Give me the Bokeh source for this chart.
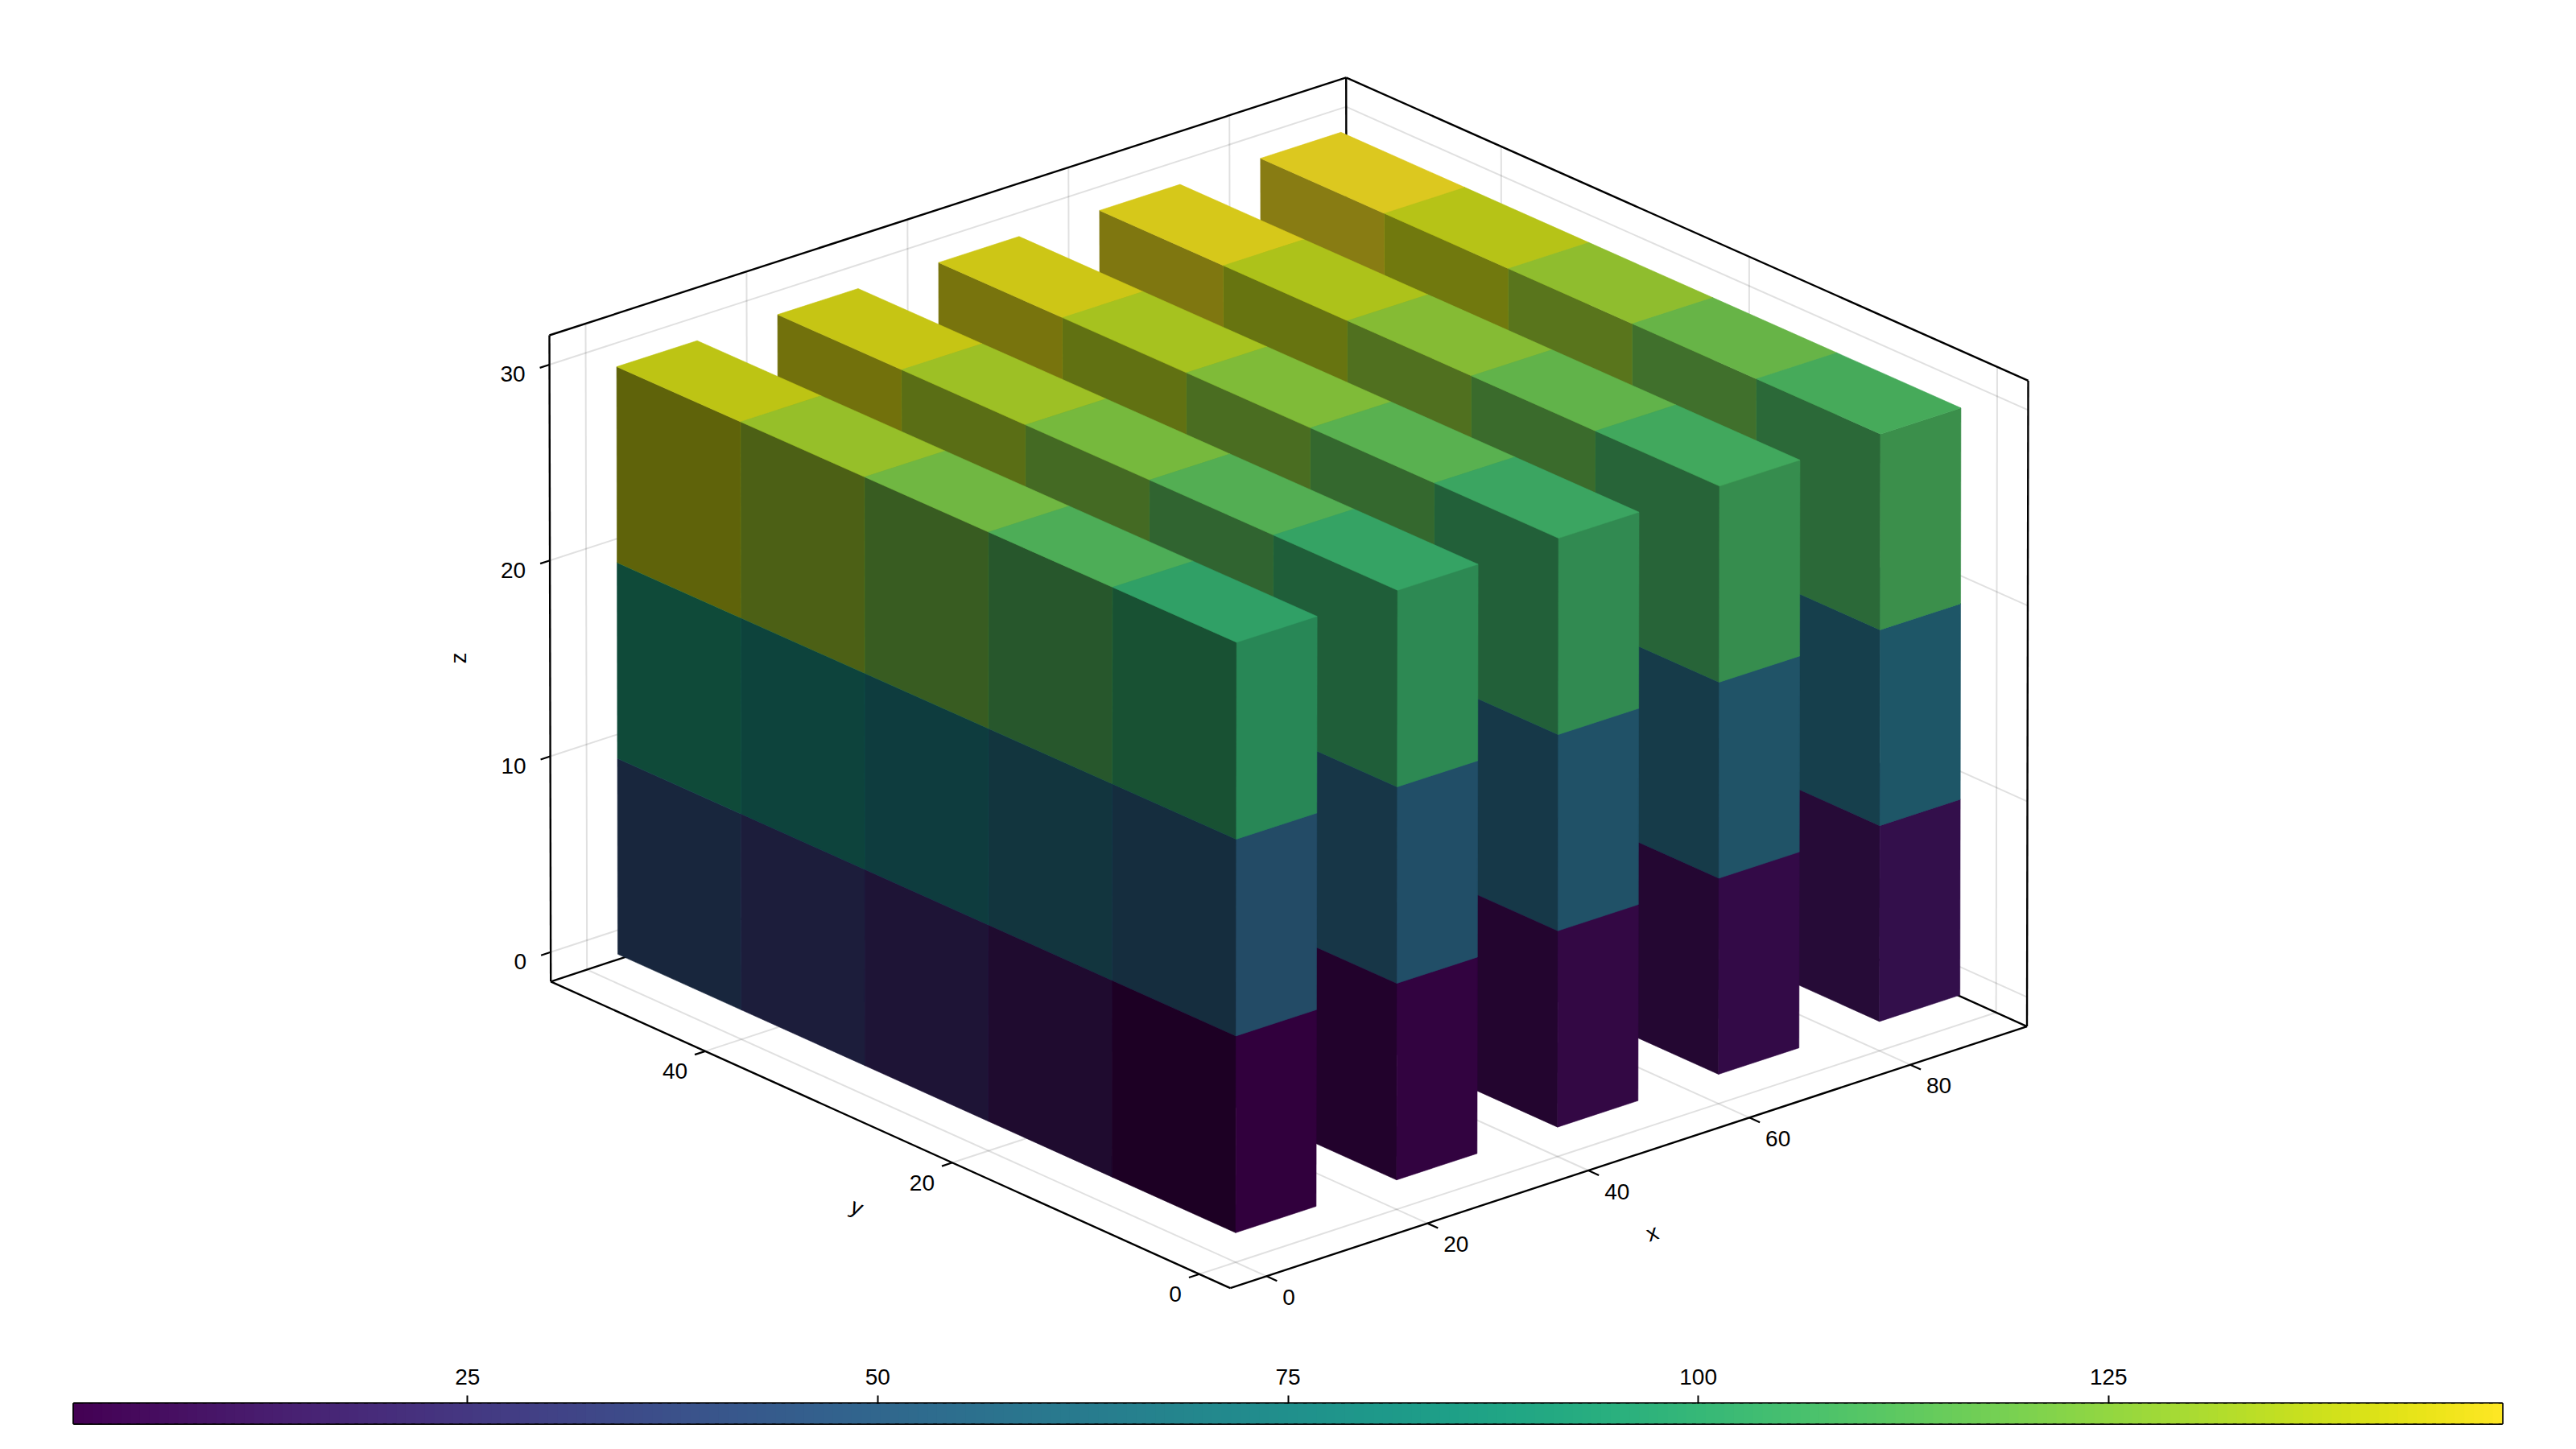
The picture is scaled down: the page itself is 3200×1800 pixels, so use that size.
from bokeh.plotting import figure
from bokeh.layouts import column
from bokeh.models import Range1d, LinearAxis, FixedTicker, ColumnDataSource
from bokeh.palettes import Viridis256
from bokeh.core.properties import value
from bokeh.embed import file_html
from bokeh.resources import INLINE

# ---------- data ----------
x_positions = [0, 20, 40, 60, 80]
y_positions = [0, 10, 20, 30, 40]
z_positions = [0, 10, 20]
values_z0 = [[1, 3, 5, 7, 9], [11, 13, 15, 17, 19], [21, 23, 25, 27, 29], [31, 33, 35, 37, 39], [41, 43, 45, 47, 49]]
values_z1 = [[51, 53, 55, 57, 59], [61, 63, 65, 67, 69], [71, 73, 75, 77, 79], [81, 83, 85, 87, 89], [91, 93, 95, 97, 99]]
values_z2 = [[101, 103, 105, 107, 109], [111, 113, 115, 117, 119], [121, 123, 125, 127, 129], [131, 133, 135, 137, 139], [141, 143, 145, 147, 149]]
cube_size = 10
x_ticks = [0, 20, 40, 60, 80]
y_ticks = [0, 20, 40]
z_ticks = [0, 10, 20, 30]
colorbar_ticks = [25, 50, 75, 100, 125]
value_min, value_max = 1, 149

# ---------- 3D scene scales ----------
XLIM = (-4.5, 94.5)
YLIM = (-2.5, 52.5)
ZLIM = (-1.5, 31.5)
# on-screen corners of the axis box, key = (x high, y high, z high)
CORNERS = {
    (0, 0, 0): (1527.8, 1599.6), (1, 0, 0): (2517.5, 1274.6),
    (0, 1, 0): (683.7, 1218.8), (1, 1, 0): (1673.4, 893.8),
    (0, 0, 1): (1529.3, 792.5), (1, 0, 1): (2519.0, 472.4),
    (0, 1, 1): (682.0, 416.0), (1, 1, 1): (1671.7, 95.9),
}
# face brightness: wall facing -x (per row along x), face toward -y, top
WALL_LIGHT = [0.44, 0.50, 0.51, 0.52, 0.54]
FRONT_LIGHT = 0.73
TOP_LIGHT = 0.87

def project(x, y, z):
    u = (x - XLIM[0]) / (XLIM[1] - XLIM[0])
    v = (y - YLIM[0]) / (YLIM[1] - YLIM[0])
    w = (z - ZLIM[0]) / (ZLIM[1] - ZLIM[0])
    sx = sy = 0.0
    for (i, j, k), (cx, cy) in CORNERS.items():
        t = (u if i else 1 - u) * (v if j else 1 - v) * (w if k else 1 - w)
        sx += t * cx
        sy += t * cy
    return sx, sy

def shade(val, f):
    idx = round((val - value_min) / (value_max - value_min) * 255)
    h = Viridis256[idx]
    r, g, b = int(h[1:3], 16), int(h[3:5], 16), int(h[5:7], 16)
    return "#%02x%02x%02x" % (int(r * f), int(g * f), int(b * f))

W, H_MAIN, H_BAR = 3184, 1672, 116
BORDER_L, BORDER_R = 91, 76
FONT = value("Liberation Sans")
p = figure(width=W, height=H_MAIN, x_range=Range1d(BORDER_L, W - BORDER_R), y_range=Range1d(H_MAIN, 0),
           output_backend="svg", toolbar_location=None,
           min_border_left=BORDER_L, min_border_right=BORDER_R, min_border_top=0, min_border_bottom=0)
p.xaxis.visible = False
p.yaxis.visible = False
p.grid.visible = False
p.outline_line_color = None

def seg(a, b):
    pa, pb = project(*a), project(*b)
    return [pa[0], pb[0]], [pa[1], pb[1]]

# grid
gx, gy = [], []
x0, x1 = XLIM
y0, y1 = YLIM
z0, z1 = ZLIM
for t in x_ticks:
    for a, b in (((t, y1, z0), (t, y1, z1)), ((t, y0, z0), (t, y1, z0))):
        s = seg(a, b); gx.append(s[0]); gy.append(s[1])
for t in y_ticks:
    for a, b in (((x1, t, z0), (x1, t, z1)), ((x0, t, z0), (x1, t, z0))):
        s = seg(a, b); gx.append(s[0]); gy.append(s[1])
for t in z_ticks:
    for a, b in (((x0, y1, t), (x1, y1, t)), ((x1, y0, t), (x1, y1, t))):
        s = seg(a, b); gx.append(s[0]); gy.append(s[1])
p.multi_line(gx, gy, line_color="#000000", line_alpha=0.12, line_width=2)

# frame
fx, fy = [], []
for a, b in [((x0, y1, z1), (x1, y1, z1)), ((x1, y1, z1), (x1, y0, z1)), ((x1, y1, z1), (x1, y1, z0)),
             ((x0, y1, z0), (x1, y1, z0)), ((x1, y0, z0), (x1, y1, z0)), ((x0, y1, z1), (x0, y1, z0)),
             ((x1, y0, z1), (x1, y0, z0)), ((x0, y1, z0), (x0, y0, z0)), ((x0, y0, z0), (x1, y0, z0))]:
    s = seg(a, b); fx.append(s[0]); fy.append(s[1])
p.multi_line(fx, fy, line_color="#000000", line_width=2.4)

# ticks
tx, ty = [], []
for t in x_ticks:
    s = seg((t, y0, z0), (t, y0 - 0.85, z0)); tx.append(s[0]); ty.append(s[1])
for t in y_ticks:
    s = seg((x0, t, z0), (x0 - 1.3, t, z0)); tx.append(s[0]); ty.append(s[1])
for t in z_ticks:
    s = seg((x0, y1, t), (x0 - 1.2, y1, t)); tx.append(s[0]); ty.append(s[1])
p.multi_line(tx, ty, line_color="#000000", line_width=2.2)

# cubes, back to front
xs, ys, cols = [], [], []
def face(pts, col):
    pr = [project(*q) for q in pts]
    xs.append([q[0] for q in pr]); ys.append([q[1] for q in pr]); cols.append(col)

layers = [values_z0, values_z1, values_z2]
for i in reversed(range(len(x_positions))):
    for j in reversed(range(len(y_positions))):
        for k in range(len(z_positions)):
            val = layers[k][j][i]
            a, b, c = x_positions[i], y_positions[j], z_positions[k]
            A, B, C = a + cube_size, b + cube_size, c + cube_size
            face([(a, b, c), (a, B, c), (a, B, C), (a, b, C)], shade(val, WALL_LIGHT[i]))
            face([(a, b, c), (A, b, c), (A, b, C), (a, b, C)], shade(val, FRONT_LIGHT))
            face([(a, b, C), (A, b, C), (A, B, C), (a, B, C)], shade(val, TOP_LIGHT))
p.patches(xs, ys, fill_color=cols, line_color=cols, line_width=0.6)

# tick labels
def labels(points, texts, xo, yo, align):
    sx = [project(*q)[0] for q in points]
    sy = [project(*q)[1] for q in points]
    src = ColumnDataSource(dict(x=sx, y=sy, t=texts))
    p.text("x", "y", text="t", source=src, x_offset=xo, y_offset=yo, text_align=align,
           text_baseline="middle", text_font=FONT, text_font_size="28px", text_color="#000000")

labels([(t, y0, z0) for t in x_ticks], [str(t) for t in x_ticks], 20, 26, "left")
labels([(x0, t, z0) for t in y_ticks], [str(t) for t in y_ticks], -22, 25, "right")
labels([(x0, y1, t) for t in z_ticks], [str(t) for t in z_ticks], -30, 12, "right")

# axis titles
p.text([2052], [1531], text=["x"], angle=[0.318], text_align="center", text_baseline="middle",
       text_font=FONT, text_font_size="28px", text_color="#000000")
p.text([1064], [1499], text=["y"], angle=[-0.424], text_align="center", text_baseline="middle",
       text_font=FONT, text_font_size="28px", text_color="#000000")
p.text([569], [817], text=["z"], angle=[1.5708], text_align="center", text_baseline="middle",
       text_font=FONT, text_font_size="28px", text_color="#000000")

# colorbar
cb = figure(width=W, height=H_BAR, x_range=Range1d(value_min, value_max), y_range=Range1d(0, 1),
            output_backend="svg", toolbar_location=None, x_axis_location=None, y_axis_location=None,
            min_border_left=BORDER_L, min_border_right=BORDER_R, min_border_top=71, min_border_bottom=20)
cb.grid.visible = False
step = (value_max - value_min) / 256
cb.quad(left=[value_min + n * step for n in range(256)],
        right=[min(value_max, value_min + (n + 1.6) * step) for n in range(256)],
        bottom=0, top=1, fill_color=list(Viridis256), line_color=None)
cb.outline_line_color = "#000000"
cb.outline_line_width = 3
ax = LinearAxis(ticker=FixedTicker(ticks=colorbar_ticks))
ax.axis_line_color = None
ax.major_tick_line_color = "#000000"
ax.major_tick_line_width = 2
ax.major_tick_out = 10
ax.major_tick_in = 0
ax.minor_tick_line_color = None
ax.major_label_standoff = 14
ax.major_label_text_font = "Liberation Sans"
ax.major_label_text_font_size = "28px"
ax.major_label_text_color = "#000000"
cb.add_layout(ax, "above")

page = column(p, cb, spacing=0)
open("out.html", "w").write(file_html(page, INLINE))
